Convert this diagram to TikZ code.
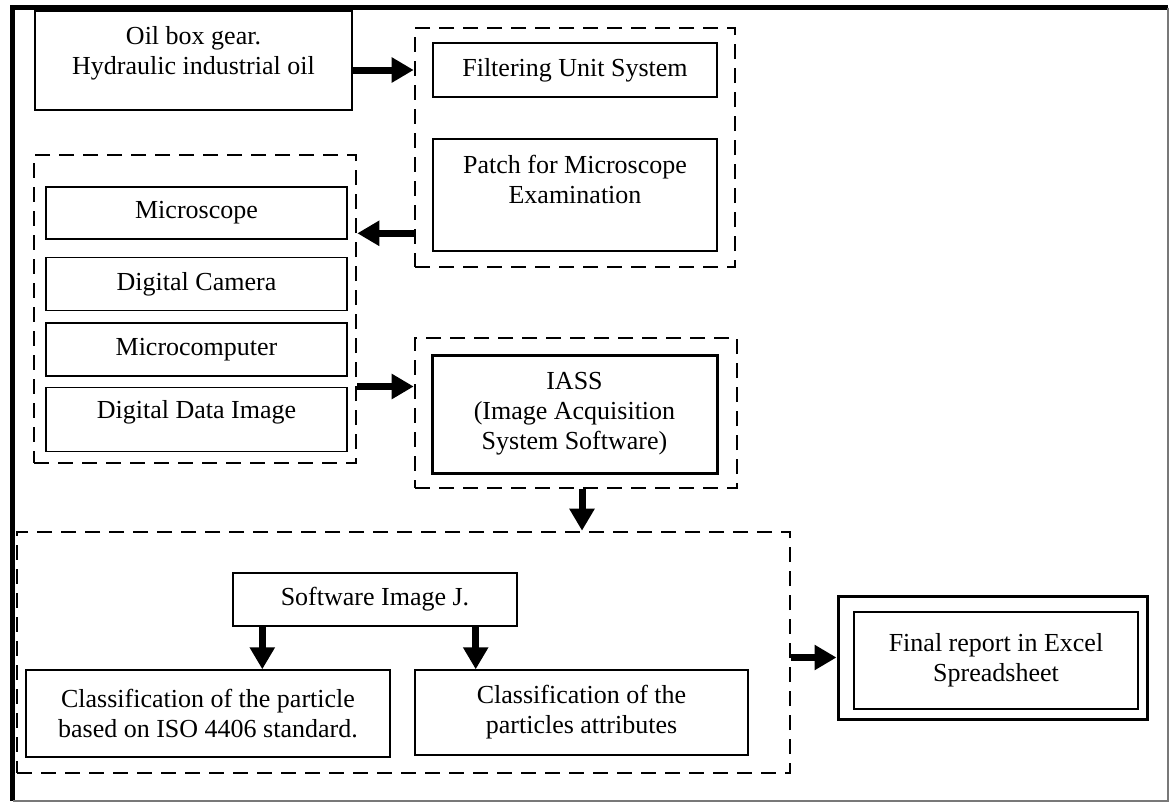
\documentclass[tikz,border=0pt]{standalone}
\usepackage{fontspec}
\setmainfont{Liberation Serif}
\usetikzlibrary{arrows.meta, positioning}
\definecolor{framegray}{RGB}{120,120,120}
\tikzset{
  unitbox/.style={
    draw=black, line width=1.4pt, align=center, inner sep=2pt,
    font=\fontsize{26}{30}\selectfont
  },
  iassbox/.style={
    unitbox, line width=3pt
  },
  groupbox/.style={
    draw=black, line width=2.6pt, dash pattern=on 15pt off 9pt
  },
  flowarrow/.style={
    -{Triangle[length=22pt,width=24pt]},
    draw=black, line width=7pt
  },
}

\begin{document}
\begin{tikzpicture}[x=1pt, y=-1pt]

  \useasboundingbox (0,0) rectangle (1171,803);

  %% page frame
  \draw[line width=5pt] (12.5,801) -- (12.5,7.5) -- (1168,7.5);
  \draw[framegray, line width=1.5pt] (1168,7.5) -- (1168,801) -- (12.5,801);

  %% dashed groups
  \node[groupbox, minimum width=320pt, minimum height=239pt] (fgrp) at (575,147.5) {};
  \node[groupbox, minimum width=322pt, minimum height=308pt] (lgrp) at (195,309) {};
  \node[groupbox, minimum width=322pt, minimum height=150pt] (igrp) at (576,413) {};
  \node[groupbox, minimum width=773pt, minimum height=241pt] (bgrp) at (403.5,652.5) {};

  %% oil source
  \node[unitbox, minimum width=317pt, minimum height=99pt, text depth=21pt] (oil)
    at (193.5,60.5) {Oil box gear.\\Hydraulic industrial oil};

  %% filtering
  \node[unitbox, minimum width=284pt, minimum height=54pt] (filt)
    at (575,70) {Filtering Unit System};
  \node[unitbox, minimum width=284pt, minimum height=112pt, text depth=32pt] (patch)
    at (575,195) {Patch for Microscope\\Examination};

  %% acquisition chain
  \node[unitbox, minimum width=301pt, minimum height=52pt] (micro)
    at (196.5,213) {Microscope};
  \node[unitbox, minimum width=301pt, minimum height=53pt, below=17pt of micro] (camera)
    {Digital Camera};
  \node[unitbox, minimum width=301pt, minimum height=53pt, below=11pt of camera] (mcomp)
    {Microcomputer};
  \node[unitbox, minimum width=301pt, minimum height=64pt, text depth=20pt,
        below=10pt of mcomp] (ddi) {Digital Data Image};

  %% IASS
  \node[iassbox, minimum width=285pt, minimum height=118pt] (iass)
    at (574.5,414) {IASS\\(Image Acquisition\\System Software)};

  %% Image J stage
  \node[unitbox, minimum width=284pt, minimum height=53pt] (sw)
    at (375,599.5) {Software Image J.};
  \node[unitbox, minimum width=364pt, minimum height=87pt] (c1)
    at (208,713.5) {Classification of the particle\\based on ISO 4406 standard.};
  \node[unitbox, minimum width=333pt, minimum height=85pt] (c2)
    at (581.5,712.5) {Classification of the\\particles attributes};

  %% final report
  \node[iassbox, minimum width=309pt, minimum height=123pt] (fin)
    at (992.5,657.5) {};
  \node[unitbox, line width=1.6pt, minimum width=284pt, minimum height=97pt] (fintext)
    at (996,660.5) {Final report in Excel\\Spreadsheet};

  %% arrows
  \draw[flowarrow] (oil.east |- filt.west) -- (fgrp.west |- filt.west);
  \coordinate (pm) at ([yshift=35pt]fgrp.south west);
  \draw[flowarrow] (pm) -- (lgrp.east |- pm);
  \draw[flowarrow] (lgrp.east |- ddi.north) -- (igrp.west |- ddi.north);
  \draw[flowarrow] ([xshift=6pt]igrp.south) -- ([xshift=6pt]igrp.south |- bgrp.north);
  \draw[flowarrow] ([xshift=30pt]sw.south west) -- ([xshift=30pt]sw.south west |- c1.north);
  \draw[flowarrow] ([xshift=-42pt]sw.south east) -- ([xshift=-42pt]sw.south east |- c2.north);
  \draw[flowarrow] (bgrp.east |- fin.west) -- (fin.west);

\end{tikzpicture}
\end{document}
